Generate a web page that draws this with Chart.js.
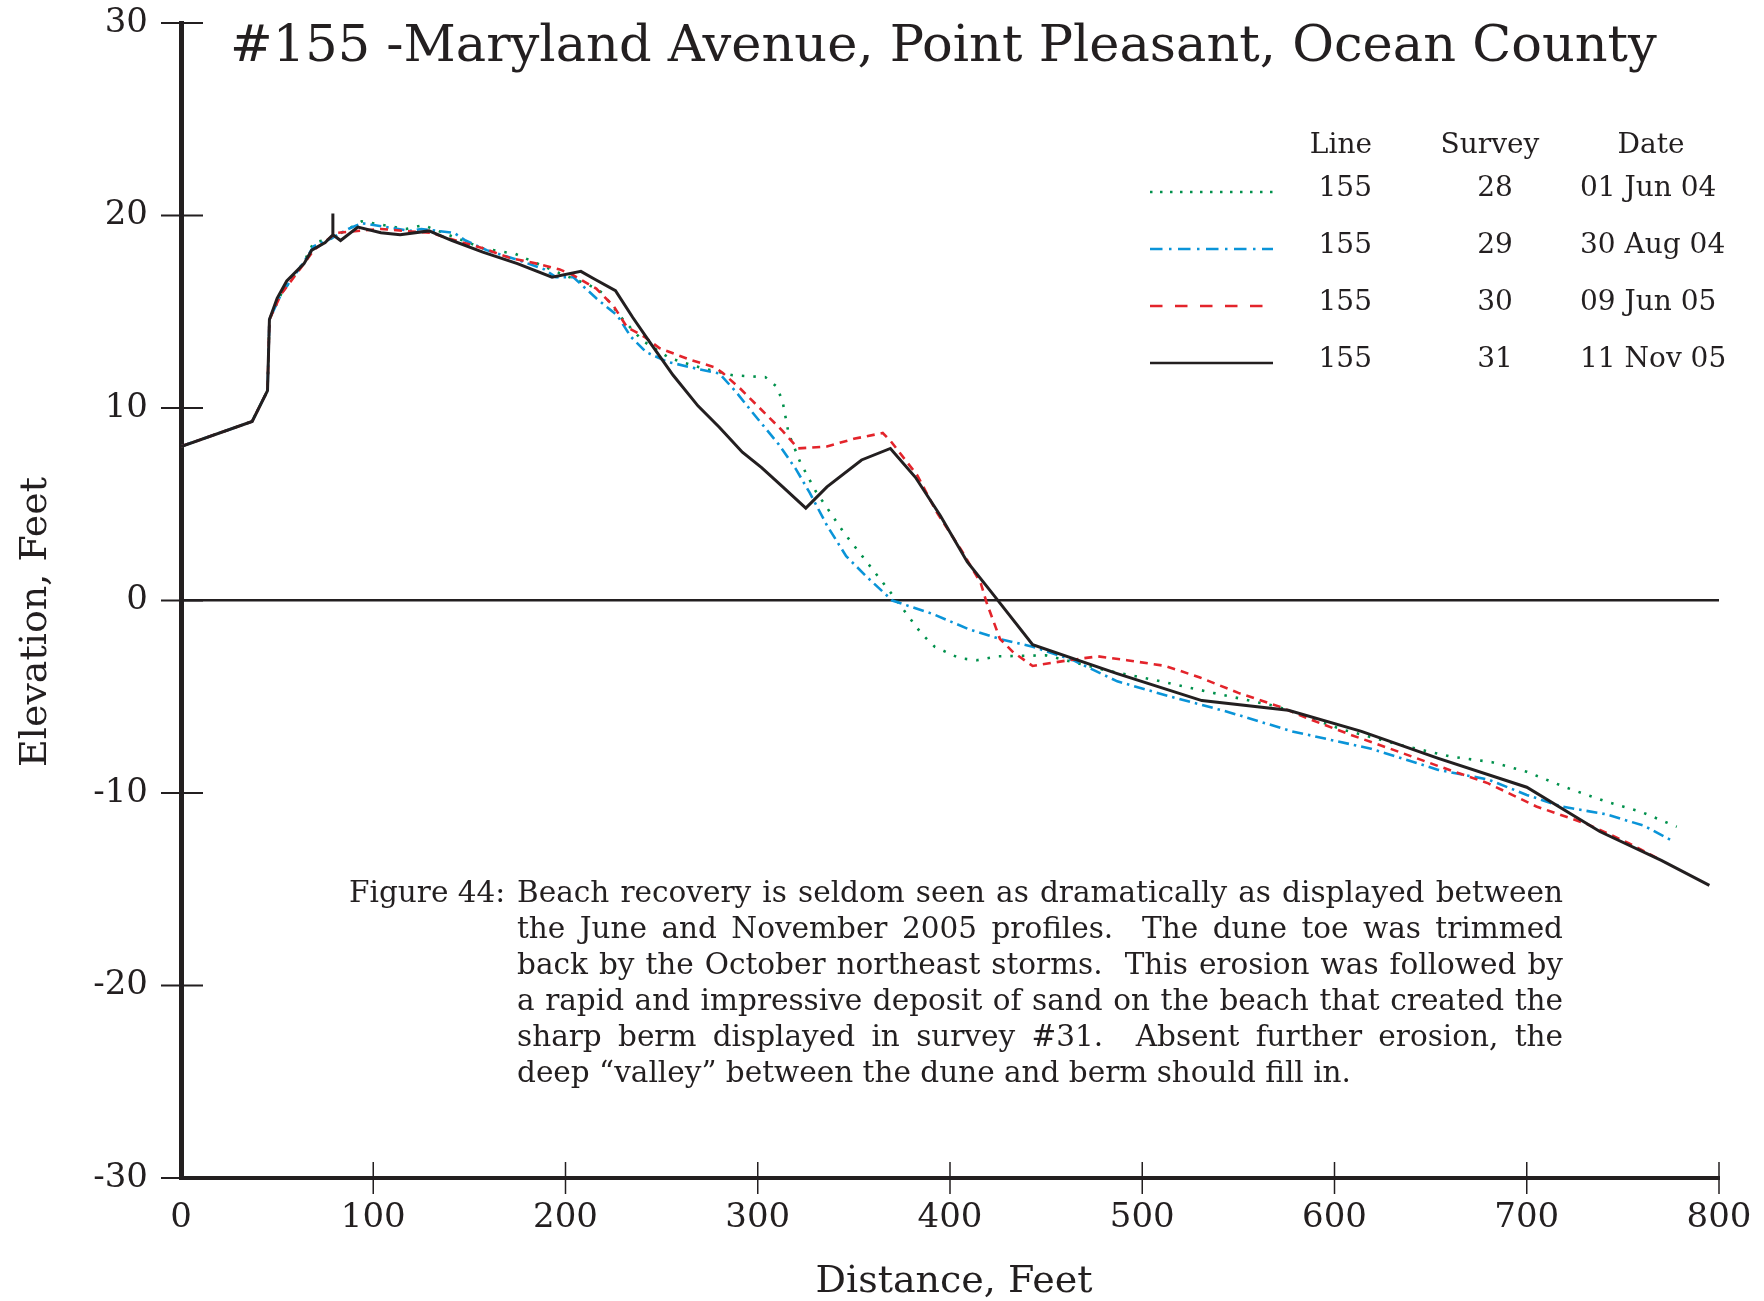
<!DOCTYPE html>
<html>
<head>
<meta charset="utf-8">
<script src="https://cdn.jsdelivr.net/npm/chart.js@4.4.1/dist/chart.umd.min.js"></script>
<style>
  html, body { margin: 0; padding: 0; background: #fff; }
  canvas { display: block; }
</style>
</head>
<body>
<canvas id="perfil" width="1764" height="1301"></canvas>
<script>
// perfil de playa, linea 155 - cuatro levantamientos
var xTicks = [0, 100, 200, 300, 400, 500, 600, 700, 800];
var yTicks = [-30, -20, -10, 0, 10, 20, 30];

var surveys = ['28', '29', '30', '31'];
var fechas = ['01 Jun 04', '30 Aug 04', '09 Jun 05', '11 Nov 05'];

var dist28 = [0, 37, 45, 46, 52, 64, 69, 78, 87, 94, 117, 126, 157, 174, 197, 212, 219, 229, 240, 254, 270, 287, 304, 310, 313, 316, 322, 330, 345, 370, 385, 392, 405, 414, 425, 450, 480, 505, 537, 570, 604, 634, 660, 682, 700, 720, 740, 760, 778];
var elev28 = [8.0, 9.3, 10.9, 14.6, 15.9, 17.6, 18.6, 18.8, 19.3, 19.7, 19.3, 19.5, 18.3, 18.0, 17.0, 16.4, 16.0, 14.7, 13.5, 12.6, 12.1, 11.7, 11.6, 11.1, 10.3, 8.7, 7.2, 5.7, 3.5, 0.3, -1.7, -2.4, -3.0, -3.1, -2.9, -2.85, -3.6, -4.1, -4.8, -5.5, -6.7, -7.5, -8.1, -8.4, -8.9, -9.7, -10.4, -11.0, -11.75];

var dist29 = [0, 37, 45, 46, 52, 64, 69, 78, 87, 94, 119, 125, 142, 148, 159, 175, 189, 195, 204, 216, 227, 234, 242, 253, 270, 280, 289, 297, 311, 320, 327, 336, 346, 357, 370, 391, 410, 426, 443, 464, 487, 515, 545, 578, 619, 654, 680, 700, 718, 741, 761, 776];
var elev29 = [8.0, 9.3, 10.9, 14.6, 15.9, 17.6, 18.4, 18.8, 19.3, 19.6, 19.2, 19.3, 19.1, 18.7, 18.2, 17.7, 17.2, 16.8, 16.8, 15.7, 14.8, 13.7, 12.9, 12.4, 12.0, 11.8, 10.8, 9.8, 8.1, 6.8, 5.6, 3.9, 2.3, 1.2, 0.0, -0.7, -1.5, -2.0, -2.4, -3.1, -4.2, -5.0, -5.8, -6.8, -7.7, -8.8, -9.3, -10.1, -10.7, -11.1, -11.7, -12.5];

var dist30 = [0, 37, 45, 46, 52, 64, 69, 81, 104, 116, 130, 143, 157, 171, 185, 197, 204, 216, 225, 232, 241, 249, 265, 278, 282, 291, 301, 313, 321, 336, 350, 365, 369, 383, 393, 406, 416, 419, 426, 433, 443, 462, 477, 492, 512, 530, 550, 571, 588, 609, 629, 654, 680, 705, 731, 753, 770];
var elev30 = [8.0, 9.3, 10.9, 14.6, 15.9, 17.5, 18.2, 19.1, 19.3, 19.2, 19.1, 18.7, 18.3, 17.8, 17.5, 17.2, 16.9, 16.2, 15.3, 14.2, 13.7, 13.1, 12.5, 12.1, 11.8, 11.0, 10.0, 8.8, 7.9, 8.0, 8.4, 8.7, 8.3, 6.5, 4.6, 2.6, 0.9, -0.1, -2.0, -2.7, -3.4, -3.1, -2.9, -3.1, -3.4, -4.0, -4.8, -5.5, -6.2, -7.0, -7.7, -8.6, -9.5, -10.7, -11.6, -12.6, -13.5];

var dist31 = [0, 37, 45, 46, 50, 55, 64, 68, 75, 79, 79, 79, 83, 92, 104, 114, 129, 141, 157, 175, 193, 208, 215, 226, 235, 244, 256, 269, 280, 292, 302, 313, 325, 336, 354, 369, 382, 395, 409, 421, 443, 487, 531, 576, 614, 654, 700, 738, 770, 795];
var elev31 = [8.0, 9.3, 10.9, 14.6, 15.7, 16.6, 17.5, 18.2, 18.6, 19.0, 20.1, 19.0, 18.7, 19.4, 19.1, 19.0, 19.2, 18.7, 18.1, 17.5, 16.8, 17.1, 16.7, 16.1, 14.7, 13.4, 11.7, 10.1, 9.0, 7.7, 6.9, 5.9, 4.8, 5.9, 7.3, 7.9, 6.4, 4.4, 2.0, 0.5, -2.3, -3.8, -5.2, -5.7, -6.8, -8.2, -9.7, -12.0, -13.5, -14.8];

var captionLines = [
  'Beach recovery is seldom seen as dramatically as displayed between',
  'the June and November 2005 profiles.  The dune toe was trimmed',
  'back by the October northeast storms.  This erosion was followed by',
  'a rapid and impressive deposit of sand on the beach that created the',
  'sharp berm displayed in survey #31.  Absent further erosion, the',
  'deep \u201cvalley\u201d between the dune and berm should fill in.'
];

var negro = '#231f20';
var serif = '"DejaVu Serif", "Liberation Serif", serif';

function puntos(xs, ys) {
  return xs.map(function (x, i) { return { x: x, y: ys[i] }; });
}

var estilos = [
  { color: '#00914c', dash: [2.5, 9], legDash: [2.5, 7.5] },
  { color: '#0a94d8', dash: [11, 5, 2.5, 5], legDash: [12.5, 6.5, 2.5, 6.5] },
  { color: '#e3242b', dash: [8, 6], legDash: [12.5, 12.5] },
  { color: negro, dash: [], legDash: [] }
];

function fitFont(ctx, text, maxW, start) {
  var s = start;
  ctx.font = s + 'px ' + serif;
  while (ctx.measureText(text).width > maxW && s > 8) {
    s -= 0.5;
    ctx.font = s + 'px ' + serif;
  }
  return s;
}

function lineaJustificada(ctx, line, left, right, y, justify) {
  var partes = line.split(/( +)/);
  var anchoPal = 0, unidades = 0;
  partes.forEach(function (p) {
    if (p.trim() === '') unidades += p.length;
    else anchoPal += ctx.measureText(p).width;
  });
  var esp = justify && unidades ? (right - left - anchoPal) / unidades : ctx.measureText(' ').width;
  var x = left;
  partes.forEach(function (p) {
    if (p.trim() === '') { x += esp * p.length; }
    else { ctx.fillText(p, x, y); x += ctx.measureText(p).width; }
  });
}

var extras = {
  id: 'extras',
  afterDraw: function (chart) {
    var ctx = chart.ctx;
    var xs = chart.scales.x, ys = chart.scales.y;
    ctx.save();
    ctx.fillStyle = negro;
    ctx.strokeStyle = negro;

    // marcas cruzando los ejes
    ctx.lineWidth = 2;
    yTicks.forEach(function (v) {
      var py = ys.getPixelForValue(v);
      ctx.beginPath(); ctx.moveTo(xs.left - 20, py); ctx.lineTo(xs.left + 22, py); ctx.stroke();
    });
    ctx.lineWidth = 1.5;
    xTicks.forEach(function (v) {
      if (v === 0) return;
      var px = xs.getPixelForValue(v);
      ctx.beginPath(); ctx.moveTo(px, ys.bottom - 16); ctx.lineTo(px, ys.bottom + 16); ctx.stroke();
    });

    // titulo
    var titulo = '#155 -Maryland Avenue, Point Pleasant, Ocean County';
    fitFont(ctx, titulo, 1437, 56);
    ctx.textAlign = 'left';
    ctx.textBaseline = 'alphabetic';
    ctx.fillText(titulo, 230, 61);

    // titulos de ejes
    ctx.font = '38px ' + serif;
    ctx.textAlign = 'center';
    ctx.fillText('Distance, Feet', (xs.left + xs.right) / 2 + 4, 1292);
    ctx.save();
    ctx.translate(46, 622);
    ctx.rotate(-Math.PI / 2);
    ctx.fillText('Elevation, Feet', 0, 0);
    ctx.restore();

    // tabla de leyenda
    ctx.font = '28px ' + serif;
    ctx.textAlign = 'right';
    ctx.fillText('Line', 1372, 153);
    ctx.textAlign = 'center';
    ctx.fillText('Survey', 1490, 153);
    ctx.fillText('Date', 1651, 153);
    var filas = [196, 253, 310, 367];
    chart.data.datasets.forEach(function (ds, i) {
      var yy = filas[i];
      var est = estilos[i];
      ctx.save();
      ctx.strokeStyle = est.color;
      ctx.lineWidth = 2.5;
      ctx.setLineDash(est.legDash);
      ctx.beginPath(); ctx.moveTo(1150, yy - 4); ctx.lineTo(1273, yy - 4); ctx.stroke();
      ctx.restore();
      ctx.textAlign = 'right';
      ctx.fillText('155', 1372, yy);
      ctx.textAlign = 'center';
      ctx.fillText(surveys[i], 1495, yy);
      ctx.textAlign = 'left';
      ctx.fillText(fechas[i], 1580, yy);
    });

    // leyenda de la figura
    var left = 517, right = 1563;
    var s = 30;
    ctx.font = s + 'px ' + serif;
    var maxNat = function () {
      return Math.max.apply(null, captionLines.map(function (l) { return ctx.measureText(l).width; }));
    };
    while (maxNat() > right - left && s > 10) { s -= 0.5; ctx.font = s + 'px ' + serif; }
    ctx.textAlign = 'left';
    ctx.fillText('Figure 44:', 349, 902);
    captionLines.forEach(function (l, i) {
      lineaJustificada(ctx, l, left, right, 902 + i * 36, i < captionLines.length - 1);
    });
    ctx.restore();
  }
};

var pares = [[dist28, elev28], [dist29, elev29], [dist30, elev30], [dist31, elev31]];
var datasets = pares.map(function (p, i) {
  return {
    label: surveys[i],
    data: puntos(p[0], p[1]),
    borderColor: estilos[i].color,
    borderDash: estilos[i].dash,
    borderWidth: i === 3 ? 3 : 2.6,
    pointRadius: 0,
    tension: 0,
    fill: false,
    order: 3 - i
  };
});

var ctx = document.getElementById('perfil');
var grafico = new Chart(ctx, {
  type: 'line',
  data: { datasets: datasets },
  options: {
    responsive: false,
    animation: false,
    devicePixelRatio: 1,
    layout: { padding: { top: 23, right: 45, left: 0, bottom: 0 } },
    plugins: { legend: { display: false }, tooltip: { enabled: false } },
    scales: {
      x: {
        type: 'linear',
        min: 0,
        max: 800,
        afterFit: function (s) { s.height = 123; s.paddingLeft = 0; s.paddingRight = 0; },
        afterBuildTicks: function (s) { s.ticks = xTicks.map(function (v) { return { value: v }; }); },
        ticks: { autoSkip: false, maxRotation: 0, padding: 20, color: negro, font: { family: serif, size: 34 } },
        grid: { display: true, drawTicks: false, color: 'rgba(0,0,0,0)' },
        border: { display: true, width: 4, color: negro }
      },
      y: {
        type: 'linear',
        min: -30,
        max: 30,
        afterFit: function (s) { s.width = 181; s.paddingTop = 0; s.paddingBottom = 0; },
        afterBuildTicks: function (s) { s.ticks = yTicks.map(function (v) { return { value: v }; }); },
        ticks: { autoSkip: false, padding: 33, color: negro, font: { family: serif, size: 34 } },
        grid: {
          display: true,
          drawTicks: false,
          lineWidth: 2.5,
          color: function (c) { return c.tick && c.tick.value === 0 ? negro : 'rgba(0,0,0,0)'; }
        },
        border: { display: true, width: 5, color: negro }
      }
    }
  },
  plugins: [extras]
});
</script>
</body>
</html>
